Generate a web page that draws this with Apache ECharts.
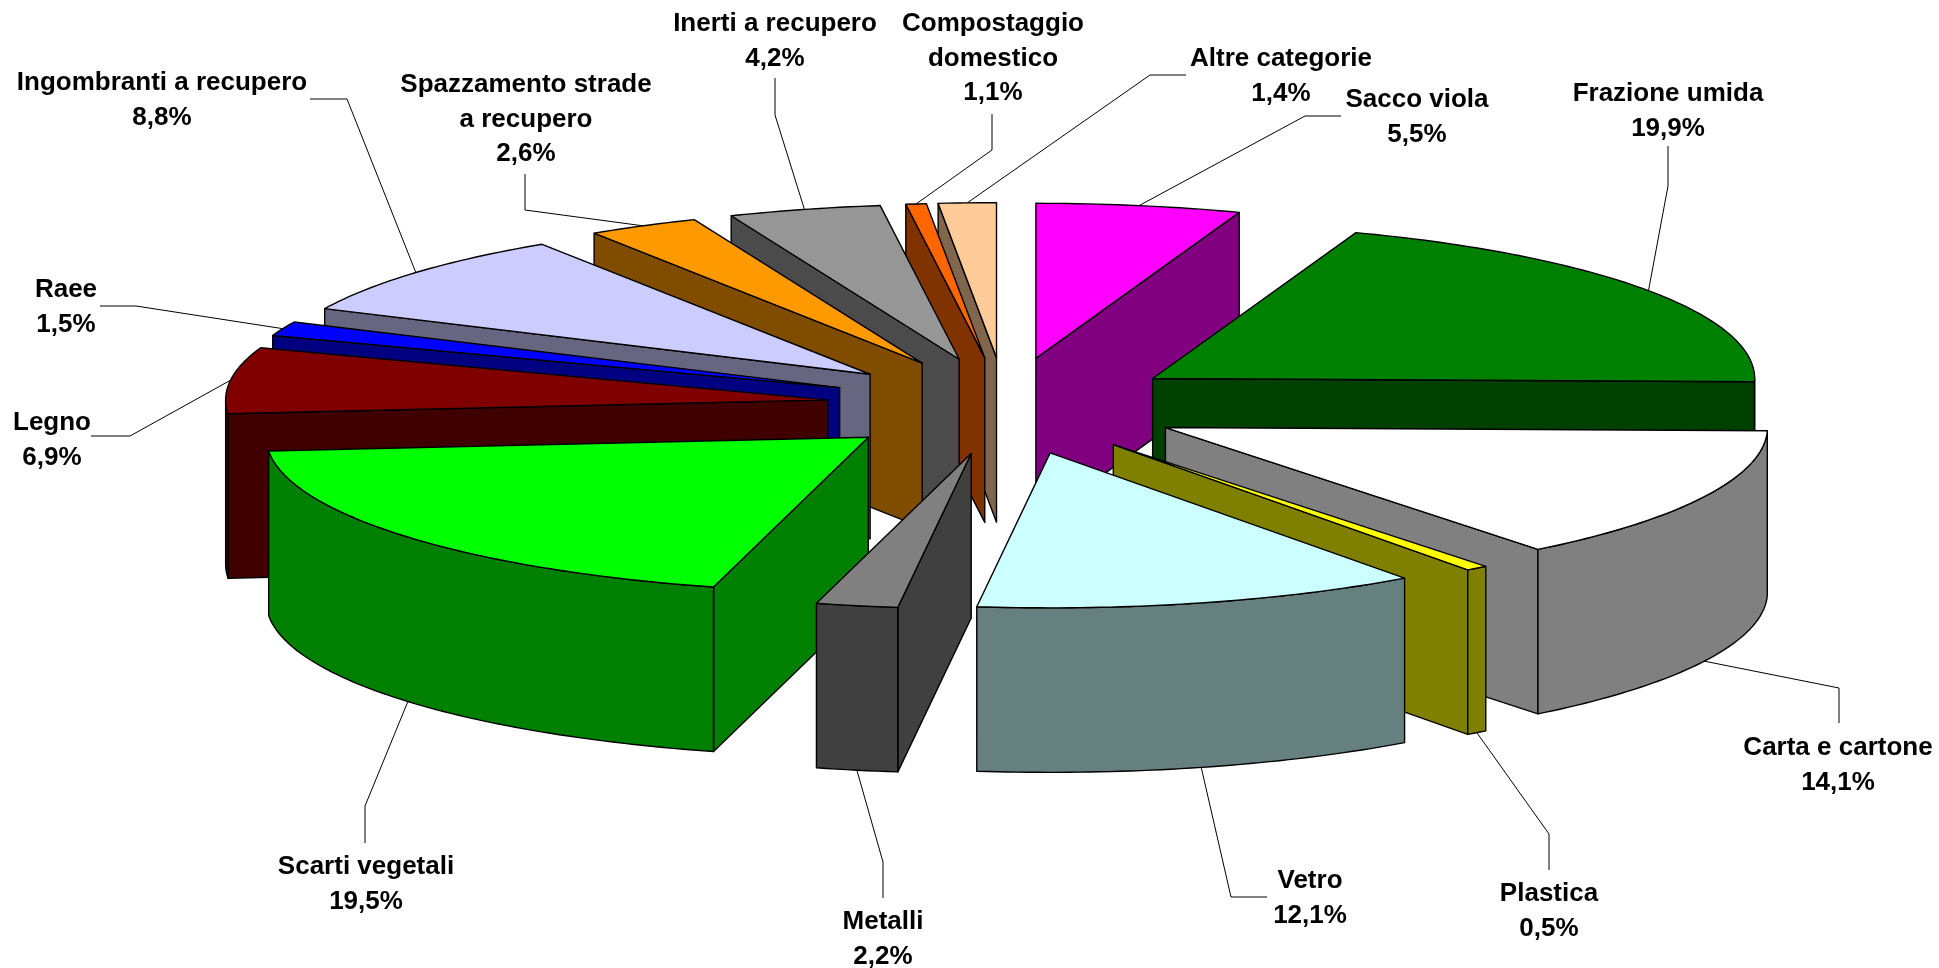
<!DOCTYPE html>
<html>
<head>
<meta charset="utf-8">
<style>
  html, body { margin: 0; padding: 0; background: #fff; }
  #chart { width: 1939px; height: 968px; }
</style>
<script src="https://cdn.jsdelivr.net/npm/echarts@6/dist/echarts.min.js"></script>
</head>
<body>
<div id="chart"></div>
<script>
// clockwise from 12 o'clock, same order as the source pie
const categories = [
  'Sacco viola', 'Frazione umida', 'Carta e cartone', 'Plastica', 'Vetro', 'Metalli',
  'Scarti vegetali', 'Legno', 'Raee', 'Ingombranti a recupero',
  'Spazzamento strade\na recupero', 'Inerti a recupero', 'Compostaggio\ndomestico', 'Altre categorie'
]
// percentages as printed on the labels
const printedShares = [5.5, 19.9, 14.1, 0.5, 12.1, 2.2, 19.5, 6.9, 1.5, 8.8, 2.6, 4.2, 1.1, 1.4]
const drawnShares = [5.5, 19.9, 14.1, 0.6, 12.0, 2.2, 19.5, 6.9, 1.5, 8.9, 3.0, 4.1, 0.55, 1.55]
const topColors = [
  '#ff00ff', '#008000', '#ffffff', '#ffff00', '#ccffff', '#808080', '#00ff00',
  '#800000', '#0000ff', '#ccccff', '#ff9900', '#969696', '#ff6600', '#ffcc99'
]
const sideColors = [
  '#800080', '#004000', '#808080', '#808000', '#668080', '#404040', '#008000',
  '#400000', '#000080', '#666680', '#804c00', '#4b4b4b', '#803300', '#80664c'
]

// label centre [x, y of first line] and the leader points, label end first
const labelPos = [
  [1417, 100], [1668, 94], [1838, 748], [1549, 894], [1310, 881], [883, 922], [366, 867],
  [52, 423], [66, 290], [162, 83], [526, 85], [775, 24], [993, 24], [1281, 59]
]
const leaders = [
  [[1341, 116], [1305, 116]],
  [[1668, 146], [1668, 186]],
  [[1839, 723], [1839, 688]],
  [[1549, 870], [1549, 834]],
  [[1267, 897], [1231, 897]],
  [[883, 898], [883, 862]],
  [[365, 843], [365, 806]],
  [[91, 436], [130, 436]],
  [[100, 306], [136, 306]],
  [[310, 99], [347, 99]],
  [[525, 174], [525, 210]],
  [[775, 78], [775, 115]],
  [[992, 114], [992, 150]],
  [[1186, 75], [1150, 75]]
]

// projection of the tilted pie
const cx = 1005.2
const cy = 406
const rx = 602
const ry = 155
const explodeX = 179
const explodeY = 48.4
const depth = 164.5

const total = drawnShares.reduce((a, b) => a + b, 0)
let acc = 0
const slices = drawnShares.map((v, i) => {
  const start = acc / total * Math.PI * 2
  acc += v
  const end = acc / total * Math.PI * 2
  const mid = (start + end) / 2
  return {
    i, start, end, mid,
    ax: cx + explodeX * Math.sin(mid),
    ay: cy - explodeY * Math.cos(mid)
  }
})

function rimPoint(s, a, dy) {
  return [s.ax + rx * Math.sin(a), s.ay - ry * Math.cos(a) + (dy || 0)]
}

function arcPoints(s, from, to, dy) {
  const n = Math.max(2, Math.ceil((to - from) / (Math.PI / 180)))
  const pts = []
  for (let k = 0; k <= n; k++) pts.push(rimPoint(s, from + (to - from) * k / n, dy))
  return pts
}

function wall(s, a) {
  const p = rimPoint(s, a)
  return [[s.ax, s.ay], p, [p[0], p[1] + depth], [s.ax, s.ay + depth]]
}

// back slices first, the ones facing the viewer last
const drawOrder = slices.slice().sort((p, q) =>
  Math.abs(q.mid - Math.PI) - Math.abs(p.mid - Math.PI))

function renderSlice(params, api) {
  const s = slices[api.value(0)]
  const face = (points, fill) => ({
    type: 'polygon',
    shape: { points },
    style: { fill, stroke: '#000', lineWidth: 1.4, lineJoin: 'round' }
  })
  const side = sideColors[s.i]
  const children = []
  if (Math.sin(s.start) < -1e-6) children.push(face(wall(s, s.start), side))
  if (Math.sin(s.end) > 1e-6) children.push(face(wall(s, s.end), side))
  const from = Math.max(s.start, Math.PI / 2)
  const to = Math.min(s.end, Math.PI * 1.5)
  if (to > from) {
    const upper = arcPoints(s, from, to, 0)
    const lower = arcPoints(s, from, to, depth).reverse()
    children.push(face(upper.concat(lower), side))
  }
  children.push(face([[s.ax, s.ay]].concat(arcPoints(s, s.start, s.end, 0)), topColors[s.i]))
  return { type: 'group', children }
}

function renderLabel(params, api) {
  const i = api.value(0)
  const s = slices[i]
  // leader ends on the top rim for back slices, on the bottom rim for front ones
  const anchor = rimPoint(s, s.mid, Math.cos(s.mid) < 0 ? depth : 0)
  return {
    type: 'group',
    children: [
      {
        type: 'polyline',
        shape: { points: leaders[i].concat([anchor]) },
        style: { fill: 'none', stroke: '#000', lineWidth: 1 }
      },
      {
        type: 'text',
        style: {
          text: categories[i] + '\n' + printedShares[i].toFixed(1).replace('.', ',') + '%',
          x: labelPos[i][0],
          y: labelPos[i][1] - 17.25,
          align: 'center',
          verticalAlign: 'top',
          lineHeight: 34.5,
          font: 'bold 26px "Liberation Sans", Arial, sans-serif',
          fill: '#000'
        }
      }
    ]
  }
}

const chart = echarts.init(document.getElementById('chart'))
chart.setOption({
  animation: false,
  backgroundColor: '#ffffff',
  series: [
    {
      type: 'custom',
      coordinateSystem: 'none',
      silent: true,
      renderItem: renderSlice,
      data: drawOrder.map(s => [s.i])
    },
    {
      type: 'custom',
      coordinateSystem: 'none',
      silent: true,
      renderItem: renderLabel,
      data: slices.map(s => [s.i])
    }
  ]
})
</script>
</body>
</html>
